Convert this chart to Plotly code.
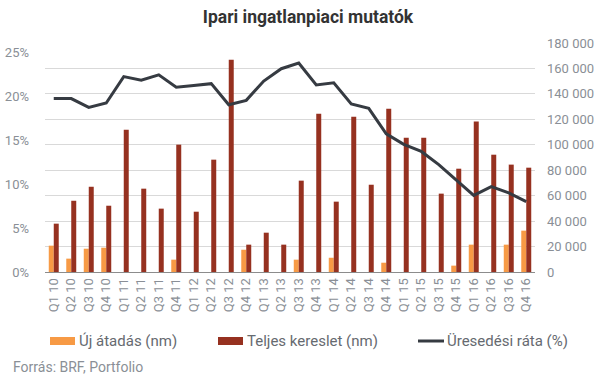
import plotly.graph_objects as go

quarters = ["Q1 10", "Q2 10", "Q3 10", "Q4 10", "Q1 11", "Q2 11", "Q3 11", "Q4 11",
            "Q1 12", "Q2 12", "Q3 12", "Q4 12", "Q1 13", "Q2 13", "Q3 13", "Q4 13",
            "Q1 14", "Q2 14", "Q3 14", "Q4 14", "Q1 15", "Q2 15", "Q3 15", "Q4 15",
            "Q1 16", "Q2 16", "Q3 16", "Q4 16"]

uj_atadas = [20700, 10500, 18300, 19100, 0, 0, 0, 9700,
             0, 0, 0, 17500, 0, 0, 9700, 0,
             11200, 0, 0, 7300, 0, 0, 0, 5000,
             21500, 0, 21500, 32500]

teljes_kereslet = [38000, 56000, 67000, 52100, 111900, 65500, 49800, 100100,
                   47400, 88300, 166900, 21500, 30900, 21500, 71800, 124400,
                   55300, 122100, 68600, 128400, 105600, 105600, 61600, 81200,
                   118200, 92200, 84400, 82000]

uresedesi_rata = [19.7, 19.7, 18.7, 19.2, 22.2, 21.8, 22.4, 21.0,
                  21.2, 21.4, 19.0, 19.5, 21.7, 23.1, 23.75, 21.25,
                  21.5, 19.1, 18.6, 15.7, 14.5, 13.7, 12.2, 10.5,
                  8.7, 9.7, 9.0, 8.0]

left_ticks = [0, 5, 10, 15, 20, 25]
left_labels = [f"{v}%" for v in left_ticks]

series_names = ["Új átadás (nm)", "Teljes kereslet (nm)", "Üresedési ráta (%)"]
series_colors = ["#f79a45", "#963120", "#363b42"]

FONT = "Roboto"
TICK_COLOR = "#8a8f96"
LEGEND_COLOR = "#666a70"

# plot area geometry (pixels)
PL, PR, PT, PB = 45, 71, 43, 106
PW, PH = 606 - PL - PR, 378 - PT - PB


def px_x(x):
    return (x - PL) / PW


def px_y(y):
    return (378 - PB - y) / PH


fig = go.Figure()
fig.add_trace(go.Bar(x=quarters, y=uj_atadas, name=series_names[0],
                     marker=dict(color=series_colors[0], line=dict(width=0)), yaxis="y"))
fig.add_trace(go.Bar(x=quarters, y=teljes_kereslet, name=series_names[1],
                     marker=dict(color=series_colors[1], line=dict(width=0)), yaxis="y"))
fig.add_trace(go.Scatter(x=quarters, y=uresedesi_rata, name=series_names[2],
                         mode="lines", line=dict(color=series_colors[2], width=3), yaxis="y2"))

# legend drawn as swatches + labels (Excel-like wide swatches)
legend_swatch_left = [50, 218, 418]
legend_y = 341
shapes = []
annotations = []
for i, (name, color) in enumerate(zip(series_names, series_colors)):
    x0 = legend_swatch_left[i]
    if i < 2:
        shapes.append(dict(type="rect", xref="paper", yref="paper",
                           x0=px_x(x0), x1=px_x(x0 + 25),
                           y0=px_y(legend_y + 4), y1=px_y(legend_y - 4),
                           fillcolor=color, line=dict(width=0)))
    else:
        shapes.append(dict(type="line", xref="paper", yref="paper",
                           x0=px_x(x0), x1=px_x(x0 + 26),
                           y0=px_y(legend_y), y1=px_y(legend_y),
                           line=dict(color=color, width=3)))
    annotations.append(dict(text=name, xref="paper", yref="paper",
                            x=px_x(x0 + 27), xanchor="left", y=px_y(legend_y), yanchor="middle",
                            showarrow=False,
                            font=dict(family=FONT, size=15, color=LEGEND_COLOR)))

annotations.append(dict(text="Forrás: BRF, Portfolio", xref="paper", yref="paper",
                        x=px_x(11), xanchor="left", y=px_y(367), yanchor="middle",
                        showarrow=False, font=dict(family=FONT, size=14, color=TICK_COLOR)))

fig.update_layout(
    template="none",
    width=606, height=378,
    margin=dict(l=PL, r=PR, t=PT, b=PB, autoexpand=False),
    paper_bgcolor="white", plot_bgcolor="white",
    separators=", ",
    font=dict(family=FONT, size=13, color=TICK_COLOR),
    title=dict(text="<b>Ipari ingatlanpiaci mutatók</b>", x=px_x(308), xref="paper",
               xanchor="center", y=(378 - 17) / 378, yref="container", yanchor="middle",
               font=dict(family=FONT, size=17.5, color="#333333")),
    barmode="group", bargap=0.43, bargroupgap=0,
    xaxis=dict(type="category", tickangle=-90, showgrid=False, showline=True,
               linecolor="#8c8c8c", linewidth=1, ticks="", automargin=False,
               tickfont=dict(family=FONT, size=13, color=TICK_COLOR)),
    yaxis=dict(side="right", range=[0, 180000], dtick=20000, tickformat=",d",
               showgrid=True, gridcolor="#d9d9d9", gridwidth=1, zeroline=False,
               showline=False, ticks="", ticklabelstandoff=11, automargin=False,
               tickfont=dict(family=FONT, size=13, color=TICK_COLOR)),
    yaxis2=dict(overlaying="y", side="left", range=[0, 26.02], tickvals=left_ticks,
                ticktext=left_labels, showgrid=False, zeroline=False, showline=False,
                ticks="", ticklabelstandoff=15, automargin=False,
                tickfont=dict(family=FONT, size=13, color=TICK_COLOR)),
    showlegend=False,
    shapes=shapes,
    annotations=annotations,
)

fig.write_html("out.html", config={"displayModeBar": False},
               post_script="document.body.style.margin='0';document.body.style.padding='0';")
